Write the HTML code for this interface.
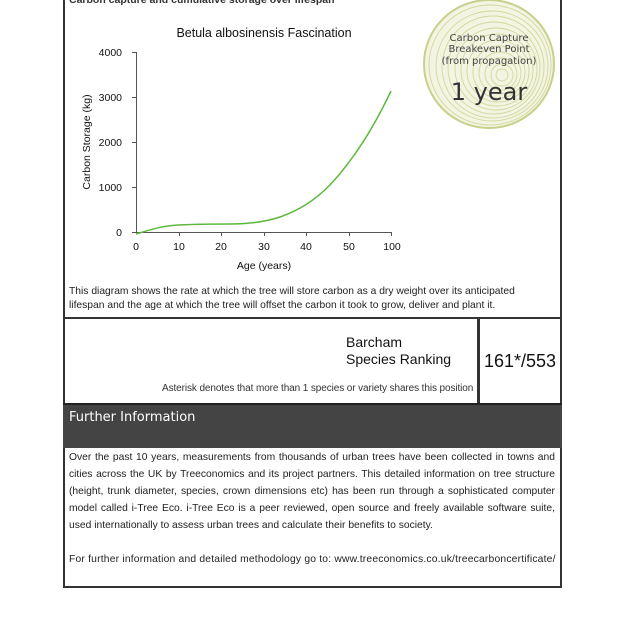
<!DOCTYPE html>
<html><head><meta charset="utf-8"><style>
body{margin:0;width:620px;height:620px;background:#fff;position:relative;overflow:hidden;font-family:"Liberation Sans",sans-serif}
.a{position:absolute}
.box{position:absolute;border:2px solid #333;box-sizing:border-box}
.t{font-size:10.3px;color:#222;line-height:17px;text-align:justify}
</style></head><body>
<div class="box" style="left:63px;top:-4px;width:499px;height:592px"></div>
<div class="a" style="left:63px;top:317px;width:499px;height:2px;background:#333"></div>
<div class="a" style="left:477px;top:318px;width:3px;height:87px;background:#333"></div>
<div class="a" style="left:63px;top:403px;width:499px;height:3px;background:#222"></div>
<div class="a" style="left:63px;top:405px;width:499px;height:43px;background:#444"></div>
<div class="a" style="left:69px;top:-6px;font-size:10.5px;font-weight:bold;color:#333">Carbon capture and cumulative storage over lifespan</div>
<svg class="a" style="left:0;top:0" width="620" height="320">
<ellipse cx="489" cy="64" rx="65" ry="64" fill="#f3f4e2" stroke="#c9d08c" stroke-width="2"/>
<g fill="none" stroke="#d2d89c" stroke-width="0.9">
<ellipse cx="490" cy="65" rx="61" ry="60"/><ellipse cx="492" cy="66" rx="56" ry="55"/><ellipse cx="493" cy="67" rx="51" ry="51"/><ellipse cx="494" cy="68" rx="46" ry="46"/><ellipse cx="496" cy="69" rx="41" ry="41"/><ellipse cx="497" cy="70" rx="36" ry="36"/><ellipse cx="498" cy="71" rx="31" ry="31"/><ellipse cx="499" cy="72" rx="26" ry="26"/><ellipse cx="500" cy="73" rx="21" ry="21"/><ellipse cx="501" cy="74" rx="16" ry="16"/><ellipse cx="502" cy="75" rx="11" ry="11"/><ellipse cx="502" cy="75" rx="6" ry="6"/>
</g>
<g font-family="DejaVu Sans,sans-serif" font-size="10" fill="#444" text-anchor="middle">
<text x="489" y="41">Carbon Capture</text><text x="489" y="52">Breakeven Point</text><text x="489" y="64">(from propagation)</text>
</g>
<text x="489" y="100" text-anchor="middle" font-family="DejaVu Sans,sans-serif" font-size="24" fill="#333">1 year</text>
<g font-family="Liberation Sans,sans-serif" fill="#111">
<text x="264" y="37" font-size="12.5" text-anchor="middle">Betula albosinensis Fascination</text>
<g font-size="10.5" text-anchor="end"><text x="122" y="56">4000</text><text x="122" y="101">3000</text><text x="122" y="146">2000</text><text x="122" y="191">1000</text><text x="122" y="236">0</text></g>
<g font-size="10.5" text-anchor="middle"><text x="136" y="250">0</text><text x="179" y="250">10</text><text x="221" y="250">20</text><text x="264" y="250">30</text><text x="306" y="250">40</text><text x="349" y="250">50</text><text x="392" y="250">100</text>
<text x="264" y="269">Age (years)</text></g>
<text transform="translate(90,142) rotate(-90)" font-size="10.5" text-anchor="middle">Carbon Storage (kg)</text>
</g>
<g stroke="#555" stroke-width="1"><line x1="136.5" y1="52" x2="136.5" y2="233"/><line x1="136" y1="232.5" x2="392" y2="232.5"/>
<line x1="132" y1="52.5" x2="136" y2="52.5"/><line x1="132" y1="97.5" x2="136" y2="97.5"/><line x1="132" y1="142.5" x2="136" y2="142.5"/><line x1="132" y1="187.5" x2="136" y2="187.5"/><line x1="132" y1="232.5" x2="136" y2="232.5"/>
<line x1="179.5" y1="232" x2="179.5" y2="236"/><line x1="221.5" y1="232" x2="221.5" y2="236"/><line x1="264.5" y1="232" x2="264.5" y2="236"/><line x1="306.5" y1="232" x2="306.5" y2="236"/><line x1="349.5" y1="232" x2="349.5" y2="236"/><line x1="391.5" y1="232" x2="391.5" y2="236"/></g>
<path d="M136,234 C150,230 160,226 179,225 C200,224 215,224 230,224 C250,224 265,222 280,217 C300,210 315,200 330,185 C355,158 375,125 391,91" fill="none" stroke="#5cb83a" stroke-width="1.5"/>
</svg>
<div class="a t" style="left:69px;top:285px;width:470px;font-size:10.3px;line-height:14px;text-align:left">This diagram shows the rate at which the tree will store carbon as a dry weight over its anticipated lifespan and the age at which the tree will offset the carbon it took to grow, deliver and plant it.</div>
<div class="a" style="left:346px;top:334px;font-size:14px;line-height:17px;color:#111">Barcham<br>Species Ranking</div>
<div class="a" style="left:484px;top:351px;font-size:18px;color:#111">161*/553</div>
<div class="a" style="left:162px;top:383px;font-size:10px;color:#333;width:312px;white-space:nowrap;letter-spacing:-0.1px">Asterisk denotes that more than 1 species or variety shares this position</div>
<div class="a" style="left:69px;top:410px;font-family:'DejaVu Sans',sans-serif;font-size:13px;color:#fff">Further Information</div>
<div class="a t" style="left:69px;top:449px;width:486px">Over the past 10 years, measurements from thousands of urban trees have been collected in towns and cities across the UK by Treeconomics and its project partners. This detailed information on tree structure (height, trunk diameter, species, crown dimensions etc) has been run through a sophisticated computer model called i-Tree Eco. i-Tree Eco is a peer reviewed, open source and freely available software suite, used internationally to assess urban trees and calculate their benefits to society.</div>
<div class="a t" style="left:69px;top:551px;width:490px;white-space:nowrap;letter-spacing:0.2px">For further information and detailed methodology go to: www.treeconomics.co.uk/treecarboncertificate/</div>
</body></html>
